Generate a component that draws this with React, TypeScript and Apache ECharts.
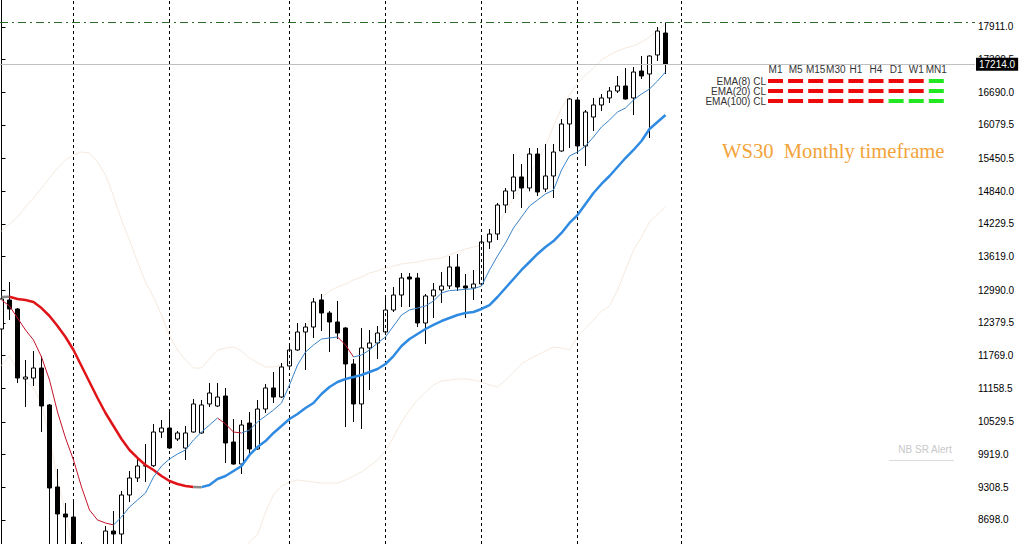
import React, { useEffect, useRef } from "react";
import * as echarts from "echarts";

// WS30 monthly candles: [open, close, low, high]
const candles: number[][] = [
  [12267, 12828, 12192, 12884], [12809, 12641, 12435, 13145], [12641, 11351, 11258, 12659], [11333, 11370, 10810, 11688],
  [11351, 11538, 11202, 11856], [11538, 10828, 10342, 11762], [10847, 9296, 7876, 10866], [9315, 8810, 7446, 9651],
  [8810, 8754, 8156, 9016], [8754, 8007, 7913, 9090], [8007, 7072, 7054, 8287], [7072, 7614, 6474, 7932],
  [7614, 8175, 7502, 8194], [8175, 8492, 8081, 8586], [8492, 8436, 8212, 8866], [8436, 9165, 8081, 9240],
  [9165, 9483, 9034, 9614], [9483, 9707, 9408, 9875], [9707, 9712, 9408, 10118], [9712, 10342, 9688, 10492],
  [10342, 10417, 10230, 10567], [10417, 10043, 10025, 10753], [10212, 10324, 10174, 10361], [10043, 10324, 9819, 10454],
  [10342, 10866, 10330, 10959], [10324, 10847, 10310, 10940], [10866, 11071, 10810, 11258], [10828, 10996, 10810, 11258],
  [11015, 10137, 9763, 11165], [10155, 9744, 9730, 10585], [9744, 10473, 9558, 10567], [10510, 10025, 9913, 10716],
  [10025, 10772, 10010, 10940], [10772, 11165, 10697, 11239], [11165, 10996, 10884, 11464], [10996, 11557, 10980, 11632],
  [11576, 11875, 11560, 12005], [11875, 12211, 11860, 12379], [12211, 12304, 11501, 12379], [12304, 12772, 12099, 12846],
  [12810, 12566, 12230, 12921], [12566, 12398, 11837, 12603], [12398, 12192, 12080, 12790], [12286, 11613, 10436, 12300],
  [11613, 10866, 10529, 11706], [10866, 11912, 10398, 12286], [11912, 12005, 11127, 12248], [12005, 12192, 11706, 12323],
  [12211, 12622, 12155, 12865], [12622, 12902, 12585, 13052], [12902, 13220, 12678, 13313], [13239, 13201, 12678, 13313],
  [13220, 12379, 12304, 13313], [12379, 12884, 11987, 12921], [12884, 12996, 12473, 13127], [12996, 13071, 12753, 13332],
  [13071, 13426, 13015, 13631], [13426, 13052, 12977, 13669], [13071, 13033, 12473, 13295], [13033, 13108, 12809, 13370],
  [13108, 13893, 13070, 13986], [13893, 14042, 13762, 14136], [14042, 14584, 13930, 14621], [14584, 14846, 14435, 14902],
  [14846, 15107, 14696, 15537], [15108, 14902, 14528, 15350], [14902, 15537, 14840, 15649], [15537, 14827, 14752, 15649],
  [14883, 15126, 14827, 15724], [15126, 15574, 14715, 15724], [15593, 16098, 15580, 16191], [16098, 16565, 15649, 16584],
  [16546, 15687, 15574, 16602], [15687, 16322, 15313, 16359], [16228, 16453, 15967, 16584], [16453, 16584, 16341, 16658],
  [16584, 16714, 16490, 16789], [16714, 16808, 16677, 16995], [16808, 16565, 16555, 17144], [16584, 17069, 16266, 17163],
  [17088, 16995, 16939, 17368], [17032, 17368, 15836, 17380], [17387, 17835, 17275, 17910], [17798, 17214, 17032, 17995],
];

// fast EMA (thin) and slow EMA (thick)
const emaFast: number[] = [
  12809, 12697, 12473, 12248, 12061, 11744, 11314, 10716, 10230, 9819,
  9315, 8885, 8698, 8642, 8605, 8754, 8941, 9072, 9202, 9501,
  9707, 9838, 9931, 10006, 10193, 10342, 10473, 10604, 10492, 10342,
  10324, 10380, 10529, 10641, 10753, 10884, 11221, 11594, 11837, 11968,
  12080, 12099, 12118, 11968, 11744, 11781, 11875, 12005, 12118, 12323,
  12529, 12622, 12659, 12697, 12790, 12940, 12985, 12996, 13008, 13020,
  13071, 13370, 13631, 13874, 14154, 14360, 14565, 14678, 14790, 14864,
  15238, 15500, 15574, 15687, 15855, 16042, 16172, 16322, 16397, 16546,
  16658, 16752, 16901, 17069,
];
const emaSlow: number[] = [
  12865, 12870, 12828, 12809, 12772, 12659, 12510, 12323, 12118, 11875,
  11576, 11277, 10978, 10697, 10454, 10212, 10006, 9857, 9726, 9632,
  9520, 9427, 9371, 9333, 9315, 9312, 9352, 9464, 9520, 9614,
  9707, 9913, 10062, 10174, 10324, 10454, 10585, 10679, 10791, 10884,
  11052, 11183, 11277, 11333, 11370, 11407, 11463, 11520, 11613, 11762,
  11949, 12080, 12174, 12267, 12342, 12416, 12473, 12529, 12566, 12585,
  12641, 12715, 12865, 13033, 13201, 13370, 13519, 13669, 13799, 13911,
  14061, 14248, 14397, 14603, 14808, 14977, 15126, 15294, 15462, 15612,
  15780, 16004, 16135, 16266,
];
// Bollinger bands (faint)
const bandUpper: (number | null)[] = [
  14098, 14229, 14360, 14547, 14715, 14902, 15089, 15275, 15425, 15518,
  15574, 15556, 15388, 15145, 14752, 14304, 13930, 13519, 13145, 12865,
  12529, 12136, 11875, 11688, 11538, 11538, 11706, 11875, 11912, 11931,
  11856, 11725, 11632, 11557, 11557, 11594, 11700, 11987, 12248, 12547,
  12846, 12977, 13052, 13108, 13183, 13239, 13313, 13351, 13407, 13444,
  13482, 13501, 13519, 13556, 13575, 13594, 13650, 13706, 13762, 13799,
  13837, 13967, 14210, 14453, 14715, 14939, 15126, 15406, 15687, 16060,
  16397, 16640, 16864, 17013, 17144, 17294, 17387, 17462, 17518, 17555,
  17630, 17723, 17854, 17966,
];
const bandLower: (number | null)[] = [
  11585, 11769, 11493, 11290, 11164, 10876, 10229, 9452, 8838, 8057,
  null, null, null, null, null, null, null, null, null, null,
  null, null, null, null, null, null, null, null, null, null,
  7900, 8295, 8418, 8847, 9165, 9333, 9408, 9445, 9427, 9408,
  9389, 9389, 9389, 9445, 9520, 9595, 9707, 9819, 9987, 10249,
  10529, 10753, 10940, 11090, 11221, 11295, 11314, 11333, 11333, 11314,
  11277, 11221, 11183, 11314, 11463, 11613, 11706, 11781, 11856, 11931,
  11912, 11875, 12118, 12286, 12435, 12603, 12697, 12996, 13370, 13743,
  13986, 14266, 14416, 14547,
];
const separators = [9, 21, 36, 48, 60, 72, 85];
const priceTicks = [8698.0, 9308.5, 9919.0, 10529.5, 11158.5, 11769.0, 12379.5, 12990.0, 13619.0, 14229.5, 14840.0, 15450.5, 16079.5, 16690.0, 17300.5, 17911.0];
const currentPrice = 17214.0;
const timeframes = ["M1", "M5", "M15", "M30", "H1", "H4", "D1", "W1", "MN1"];
const emaRows = ["EMA(8) CL", "EMA(20) CL", "EMA(100) CL"];
const emaStatus = [
  [0, 0, 0, 0, 0, 0, 0, 0, 1],
  [0, 0, 0, 0, 0, 0, 0, 0, 1],
  [0, 0, 0, 0, 0, 0, 1, 1, 1],
];
const titleText = "WS30  Monthly timeframe";
const alertText = "NB SR Alert";

const Y_MIN = 8249.5;
const Y_MAX = 18414.7;
const X_MIN = -0.1875;
const X_MAX = 121.6875;
const SANS = '"Liberation Sans", Arial, sans-serif';

type Run = { t: string; pts: number[][] };
function trendRuns(values: number[], thr: number): Run[] {
  const runs: Run[] = [];
  let cur: Run | null = null;
  for (let i = 1; i < values.length; i++) {
    const d = values[i] - values[i - 1];
    const t = d > thr ? "up" : d < -thr ? "down" : "flat";
    if (cur && cur.t === t) cur.pts.push([i, values[i]]);
    else {
      cur = { t, pts: [[i - 1, values[i - 1]], [i, values[i]]] };
      runs.push(cur);
    }
  }
  return runs;
}

export default function App() {
  const ref = useRef<HTMLDivElement>(null);
  useEffect(() => {
    const chart = echarts.init(ref.current!, null, { renderer: "svg" });
    const highLevel = Math.max(...candles.map((c) => c[3]));

    const emaSeries: any[] = [];
    const addRuns = (vals: number[], width: number, colors: Record<string, string>, z: number) => {
      trendRuns(vals, 10).forEach((r) => {
        emaSeries.push({
          type: "line",
          data: r.pts,
          showSymbol: false,
          silent: true,
          z,
          lineStyle: { color: colors[r.t], width },
        });
      });
    };
    addRuns(emaSlow, 2.5, { up: "#2f8ae2", down: "#e01418", flat: "#8a8a8a" }, 5);
    addRuns(emaFast, 1, { up: "#3a84c8", down: "#c4142c", flat: "#8a8a8a" }, 6);

    const graphics: any[] = [];
    const PANEL_X = 768, STEP = 20.1, DASH_W = 15, HEADER_Y = 69, ROW_Y0 = 81, ROW_STEP = 10;
    timeframes.forEach((tf, c) => {
      graphics.push({
        type: "text",
        x: PANEL_X + c * STEP + DASH_W / 2,
        y: HEADER_Y,
        style: { text: tf, fill: "#333", fontSize: 10, fontFamily: SANS, align: "center", verticalAlign: "middle", textAlign: "center", textVerticalAlign: "middle" },
      });
    });
    emaRows.forEach((label, r) => {
      const y = ROW_Y0 + r * ROW_STEP;
      graphics.push({
        type: "text",
        x: PANEL_X - 2,
        y,
        style: { text: label, fill: "#333", fontSize: 10, fontFamily: SANS, align: "right", verticalAlign: "middle", textAlign: "right", textVerticalAlign: "middle" },
      });
      emaStatus[r].forEach((s, c) => {
        graphics.push({
          type: "rect",
          shape: { x: PANEL_X + c * STEP, y: y - 2, width: DASH_W, height: 4 },
          style: { fill: s ? "#22e822" : "#ee0a0a" },
        });
      });
    });
    graphics.push({
      type: "text",
      x: 722,
      y: 151,
      style: { text: titleText, fill: "#f2a33a", fontSize: 20.6, fontFamily: '"Liberation Serif", "DejaVu Serif", serif', align: "left", verticalAlign: "middle", textAlign: "left", textVerticalAlign: "middle" },
    });
    graphics.push({
      type: "text",
      x: 925,
      y: 449,
      style: { text: alertText, fill: "#c8c8c8", fontSize: 10, fontFamily: SANS, align: "center", verticalAlign: "middle", textAlign: "center", textVerticalAlign: "middle" },
    });
    graphics.push({
      type: "line",
      shape: { x1: 889, y1: 460.5, x2: 954, y2: 460.5 },
      style: { stroke: "#dcdcdc", lineWidth: 1 },
    });

    const bandStyle = { color: "#f6eadf", width: 1 };
    const option: any = {
      animation: false,
      backgroundColor: "#ffffff",
      grid: { left: 0, right: 44, top: 0, bottom: 0, containLabel: false },
      xAxis: {
        type: "value",
        min: X_MIN,
        max: X_MAX,
        show: false,
        splitLine: { show: false },
      },
      yAxis: {
        type: "value",
        position: "right",
        min: Y_MIN,
        max: Y_MAX,
        axisLine: { show: true, lineStyle: { color: "#000", width: 1 } },
        axisTick: { show: true, length: 4, customValues: priceTicks, lineStyle: { color: "#000" } },
        axisLabel: {
          customValues: priceTicks,
          formatter: (v: number) => v.toFixed(1),
          color: "#000",
          fontSize: 10,
          fontFamily: SANS,
          margin: 3,
        },
        splitLine: { show: false },
      },
      graphic: graphics,
      series: [
        {
          type: "line",
          data: bandUpper.map((v, i) => [i, v]),
          showSymbol: false,
          silent: true,
          z: 1,
          lineStyle: bandStyle,
          markLine: {
            silent: true,
            symbol: ["none", "none"],
            animation: false,
            label: { show: false },
            data: [
              ...separators.map((s) => ({ xAxis: s, lineStyle: { color: "#000", type: [3, 3], width: 1 } })),
              { yAxis: highLevel, lineStyle: { color: "#2c6a2c", type: [8, 4, 2, 4], width: 1 } },
              {
                yAxis: currentPrice,
                lineStyle: { color: "#c0c0c0", type: "solid", width: 1 },
                label: {
                  show: true,
                  position: "end",
                  formatter: currentPrice.toFixed(1),
                  backgroundColor: "#000",
                  color: "#fff",
                  padding: [2, 3, 1, 3],
                  fontSize: 10,
                  fontFamily: SANS,
                  distance: 1,
                },
              },
            ],
          },
        },
        {
          type: "line",
          data: bandLower.map((v, i) => [i, v]),
          showSymbol: false,
          silent: true,
          z: 1,
          lineStyle: bandStyle,
        },
        {
          type: "candlestick",
          data: candles.map((c, i) => [i, c[0], c[1], c[2], c[3]]),
          barWidth: 5,
          silent: true,
          z: 3,
          itemStyle: { color: "#ffffff", color0: "#000000", borderColor: "#000000", borderColor0: "#000000", borderWidth: 1 },
        },
        ...emaSeries,
      ],
    };
    chart.setOption(option);
    return () => chart.dispose();
  }, []);
  return (
    <div
      ref={ref}
      style={{ position: "fixed", left: 0, top: 0, width: 1019, height: 544, background: "#fff" }}
    />
  );
}
